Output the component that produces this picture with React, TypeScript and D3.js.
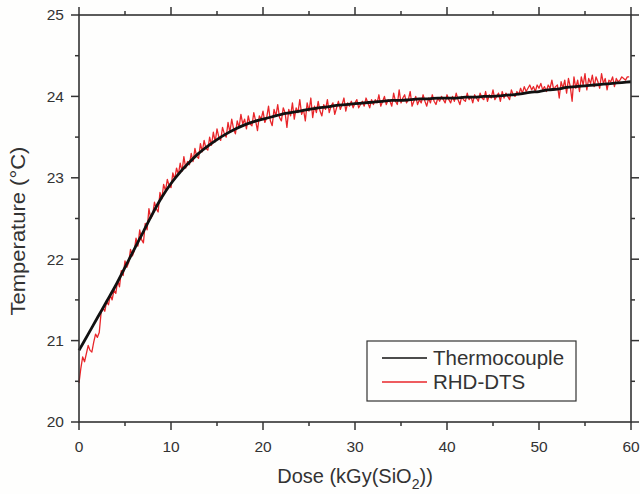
import React, {useRef, useEffect} from 'react'
import * as d3 from 'd3'

const W = 640
const H = 494
const FONT = 'Liberation Sans, Arial, sans-serif'

// Thermocouple, read at every whole kGy from 0 to 60
const thermoDose = d3.range(0, 61)
const thermoTemp = [
  20.88, 21.08, 21.28, 21.48, 21.68, 21.9, 22.12, 22.34, 22.56, 22.76,
  22.93, 23.07, 23.19, 23.3, 23.39, 23.47, 23.54, 23.6, 23.65, 23.69,
  23.72, 23.75, 23.78, 23.8, 23.82, 23.84, 23.86, 23.87, 23.89, 23.9,
  23.91, 23.92, 23.93, 23.94, 23.95, 23.95, 23.96, 23.97, 23.97, 23.98,
  23.98, 23.98, 23.99, 23.99, 24.0, 24.0, 24.01, 24.02, 24.03, 24.05,
  24.06, 24.08, 24.09, 24.11, 24.12, 24.13, 24.14, 24.15, 24.16, 24.17,
  24.18
]

// RHD-DTS, one reading every 0.2 kGy
const rhdStep = 0.2
const rhdTemp = [
  20.48, 20.66, 20.8, 20.74, 20.84, 20.94, 20.88, 20.86, 20.98, 21.08,
  21.04, 21.1, 21.34, 21.4, 21.36, 21.48, 21.44, 21.56, 21.5, 21.62,
  21.58, 21.74, 21.66, 21.86, 21.8, 21.98, 21.9, 21.96, 22.12, 22.04,
  22.1, 22.26, 22.16, 22.36, 22.24, 22.2, 22.44, 22.36, 22.62, 22.5,
  22.54, 22.7, 22.62, 22.58, 22.82, 22.74, 22.92, 22.84, 22.98, 22.9,
  22.88, 23.06, 22.98, 23.12, 23.04, 23.18, 23.08, 23.26, 23.12, 23.2,
  23.16, 23.3, 23.2, 23.36, 23.26, 23.24, 23.42, 23.32, 23.46, 23.36,
  23.34, 23.5, 23.4, 23.56, 23.44, 23.6, 23.5, 23.46, 23.62, 23.54,
  23.5, 23.68, 23.56, 23.72, 23.6, 23.54, 23.7, 23.62, 23.78, 23.66,
  23.72, 23.6, 23.76, 23.66, 23.64, 23.8, 23.7, 23.58, 23.76, 23.72,
  23.82, 23.68, 23.74, 23.88, 23.7, 23.64, 23.84, 23.76, 23.9, 23.74,
  23.7, 23.86, 23.8, 23.62, 23.84, 23.76, 23.92, 23.72, 23.86, 23.8,
  23.96, 23.78, 23.84, 23.7, 23.92, 23.82, 23.98, 23.74, 23.88, 23.8,
  23.94, 23.82, 23.76, 23.9, 23.84, 23.96, 23.8, 23.88, 23.92, 23.78,
  23.86, 23.94, 23.84, 23.9, 23.98, 23.82, 23.92, 23.88, 23.94, 23.86,
  23.92, 23.96, 23.86, 23.9, 23.94, 23.88, 23.98, 23.92, 23.86, 23.96,
  23.9, 23.96, 23.92, 24.02, 23.88, 23.94, 24.0, 23.9, 23.96, 23.94,
  23.88, 24.04, 23.94, 23.9, 24.08, 23.92, 23.98, 24.02, 23.92, 23.96,
  24.06, 23.88, 23.94, 24.0, 23.9, 23.96, 23.92, 24.02, 23.94, 23.88,
  23.98, 23.92, 24.02, 23.94, 23.9, 23.98, 23.94, 24.0, 23.96, 23.92,
  24.02, 23.96, 23.92, 24.0, 23.94, 24.04, 23.96, 23.9, 24.0, 23.96,
  23.94, 24.04, 23.96, 24.0, 23.92, 24.02, 23.98, 23.94, 24.04, 23.98,
  23.96, 24.06, 23.94, 24.02, 23.98, 24.08, 23.96, 24.0, 24.04, 23.94,
  24.06, 23.98, 24.04, 24.0, 23.96, 24.08, 24.02, 24.0, 24.06, 24.02,
  24.1, 24.04, 24.12, 24.06, 24.1, 24.14, 24.08, 24.12, 24.06, 24.14,
  24.1, 24.16, 24.08, 24.12, 24.06, 24.14, 24.1, 24.2, 24.08, 24.12,
  24.14, 23.98, 24.18, 24.1, 24.2, 24.04, 24.22, 24.12, 23.94, 24.24,
  24.1, 24.2, 24.06, 24.24, 24.14, 24.28, 24.08, 24.22, 24.16, 24.26,
  24.12, 24.24, 24.18, 24.1, 24.28, 24.16, 24.22, 24.08, 24.2, 24.18,
  24.24, 24.12, 24.22, 24.18, 24.2, 24.24, 24.22, 24.2, 24.24, 24.24
]

const xTicks = [0, 10, 20, 30, 40, 50, 60]
const yTicks = [20, 21, 22, 23, 24, 25]
const legendLabels = ['Thermocouple', 'RHD-DTS']

export default function App() {
  const ref = useRef(null)

  useEffect(() => {
    const svg = d3.select(ref.current)
    svg.selectAll('*').remove()

    const left = 79
    const right = 631
    const top = 15
    const bottom = 422
    const ink = '#333'

    const x = d3.scaleLinear().domain([0, 60]).range([left, right])
    const y = d3.scaleLinear().domain([20, 25]).range([bottom, top])

    svg
      .append('rect')
      .attr('width', W)
      .attr('height', H)
      .attr('fill', '#fefefd')

    // data
    const thermoLine = d3
      .line()
      .x(d => x(d[0]))
      .y(d => y(d[1]))
      .curve(d3.curveMonotoneX)
    const rhdLine = d3
      .line()
      .x(d => x(d[0]))
      .y(d => y(d[1]))

    svg
      .append('path')
      .attr('d', rhdLine(rhdTemp.map((t, i) => [i * rhdStep, t])))
      .attr('fill', 'none')
      .attr('stroke', '#e8262a')
      .attr('stroke-width', 1.3)
      .attr('stroke-linejoin', 'round')

    svg
      .append('path')
      .attr('d', thermoLine(thermoDose.map((d, i) => [d, thermoTemp[i]])))
      .attr('fill', 'none')
      .attr('stroke', '#111')
      .attr('stroke-width', 2.8)

    // frame
    svg
      .append('rect')
      .attr('x', left)
      .attr('y', top)
      .attr('width', right - left)
      .attr('height', bottom - top)
      .attr('fill', 'none')
      .attr('stroke', ink)
      .attr('stroke-width', 1.6)

    // ticks (all point outward)
    const tickG = svg.append('g').attr('stroke', ink).attr('stroke-width', 1.5)
    d3.range(0, 61, 5).forEach(v => {
      const len = v % 10 === 0 ? 8 : 4
      tickG.append('line').attr('x1', x(v)).attr('x2', x(v)).attr('y1', bottom).attr('y2', bottom + len)
      tickG.append('line').attr('x1', x(v)).attr('x2', x(v)).attr('y1', top).attr('y2', top - len)
    })
    d3.range(20, 25.01, 0.5).forEach(v => {
      const len = Math.abs(v % 1) < 1e-6 ? 8 : 4
      tickG.append('line').attr('x1', left).attr('x2', left - len).attr('y1', y(v)).attr('y2', y(v))
      tickG.append('line').attr('x1', right).attr('x2', right + len).attr('y1', y(v)).attr('y2', y(v))
    })

    const text = svg
      .append('g')
      .attr('font-family', FONT)
      .attr('fill', ink)

    xTicks.forEach(v => {
      text
        .append('text')
        .attr('x', x(v))
        .attr('y', bottom + 30)
        .attr('font-size', 15.5)
        .attr('text-anchor', 'middle')
        .text(v)
    })
    yTicks.forEach(v => {
      text
        .append('text')
        .attr('x', left - 15)
        .attr('y', y(v))
        .attr('dy', '0.35em')
        .attr('font-size', 15.5)
        .attr('text-anchor', 'end')
        .text(v)
    })

    // axis titles
    const xTitle = text
      .append('text')
      .attr('x', 355)
      .attr('y', 483)
      .attr('font-size', 20)
      .attr('text-anchor', 'middle')
    xTitle.append('tspan').text('Dose (kGy(SiO')
    xTitle.append('tspan').attr('font-size', 14).attr('dy', 6).text('2')
    xTitle.append('tspan').attr('dy', -6).text('))')

    text
      .append('text')
      .attr('transform', `translate(25,231) rotate(-90) scale(1.1,1)`)
      .attr('font-size', 20)
      .attr('text-anchor', 'middle')
      .text('Temperature (°C)')

    // legend
    const lg = svg.append('g')
    lg.append('rect')
      .attr('x', 367)
      .attr('y', 341)
      .attr('width', 209)
      .attr('height', 60)
      .attr('fill', '#fefefd')
      .attr('stroke', ink)
      .attr('stroke-width', 1.2)
    const colors = ['#111', '#e8262a']
    legendLabels.forEach((name, i) => {
      const cy = 358 + i * 24
      lg.append('line')
        .attr('x1', 382)
        .attr('x2', 427)
        .attr('y1', cy)
        .attr('y2', cy)
        .attr('stroke', colors[i])
        .attr('stroke-width', 1.3)
      lg.append('text')
        .attr('x', 433)
        .attr('y', cy)
        .attr('dy', '0.35em')
        .attr('font-family', FONT)
        .attr('font-size', 20.5)
        .attr('fill', ink)
        .text(name)
    })
  }, [])

  return (
    <svg
      ref={ref}
      width={W}
      height={H}
      style={{position: 'absolute', left: 0, top: 0, display: 'block'}}
    />
  )
}
